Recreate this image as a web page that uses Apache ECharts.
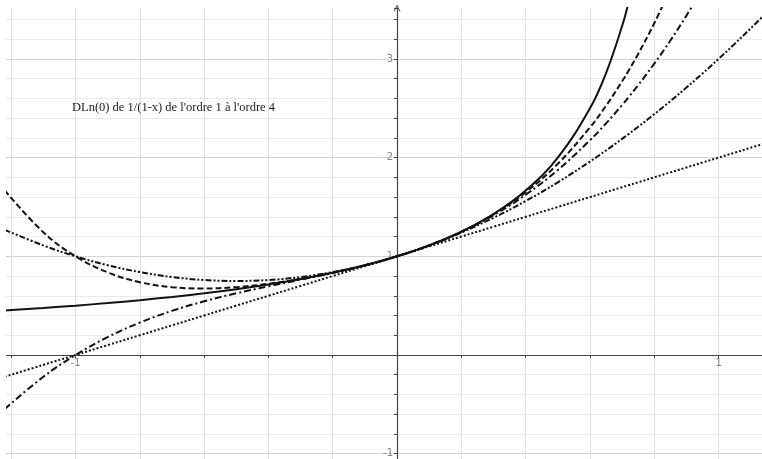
<!DOCTYPE html>
<html>
<head>
<meta charset="utf-8">
<script src="https://cdn.jsdelivr.net/npm/echarts@6/dist/echarts.min.js"></script>
<style>
    html, body { margin: 0; padding: 0; background: #fff; }
    #chart { width: 762px; height: 459px; }
</style>
</head>
<body>
<div id="chart"></div>
<script>
// abscisses des points
var xs = [-1.22, -1.1, -1.0, -0.9, -0.8, -0.7, -0.6, -0.5, -0.4, -0.3, -0.2, -0.1, 0,
    0.1, 0.2, 0.3, 0.4, 0.5, 0.6, 0.65, 0.7, 0.72, 0.75, 0.8, 0.85, 0.9, 0.95, 1.0, 1.05, 1.1, 1.14];

// 1/(1-x), trait plein
var fonction = [0.4505, 0.4762, 0.5, 0.5263, 0.5556, 0.5882, 0.625, 0.6667, 0.7143, 0.7692, 0.8333, 0.9091, 1,
    1.1111, 1.25, 1.4286, 1.6667, 2, 2.5, 2.8571, 3.3333, 3.5714, null, null, null, null, null, null, null, null, null];
// ordre 1, pointillés
var ordre1 = [-0.22, -0.1, 0, 0.1, 0.2, 0.3, 0.4, 0.5, 0.6, 0.7, 0.8, 0.9, 1,
    1.1, 1.2, 1.3, 1.4, 1.5, 1.6, 1.65, 1.7, 1.72, 1.75, 1.8, 1.85, 1.9, 1.95, 2, 2.05, 2.1, 2.14];
// ordre 2, tiret point point
var ordre2 = [1.2684, 1.11, 1, 0.91, 0.84, 0.79, 0.76, 0.75, 0.76, 0.79, 0.84, 0.91, 1,
    1.11, 1.24, 1.39, 1.56, 1.75, 1.96, 2.0725, 2.19, 2.2384, 2.3125, 2.44, 2.5725, 2.71, 2.8525, 3, 3.1525, 3.31, 3.4396];
// ordre 3, tiret point
var ordre3 = [-0.5474, -0.221, 0, 0.181, 0.328, 0.447, 0.544, 0.625, 0.696, 0.763, 0.832, 0.909, 1,
    1.111, 1.248, 1.417, 1.624, 1.875, 2.176, 2.3471, 2.533, 2.6116, 2.7344, 2.952, 3.1866, 3.439, 3.7099, null, null, null, null];
// ordre 4, tirets
var ordre4 = [1.6679, 1.2431, 1, 0.8371, 0.7376, 0.6871, 0.6736, 0.6875, 0.7216, 0.7711, 0.8336, 0.9091, 1,
    1.1111, 1.2496, 1.4251, 1.6496, 1.9375, 2.3056, 2.5256, 2.7731, 2.8803, 3.0508, 3.3616, 3.7086, null, null, null, null, null, null];

var xTickLabels = [-1, 1];
var yTickLabels = [-1, 1, 2, 3];

function pairs(ys) {
    var out = [];
    for (var i = 0; i < xs.length; i++) {
        out.push([xs[i], ys[i]]);
    }
    return out;
}

function courbe(ys, dash, width) {
    return {
        type: "line",
        data: pairs(ys),
        showSymbol: false,
        smooth: 0.4,
        clip: true,
        connectNulls: false,
        silent: true,
        lineStyle: { color: "#111", width: width, type: dash },
    };
}

// étiquettes des graduations, placées par les échelles du repère
function etiquettes(valeurs, surX) {
    return {
        type: "scatter",
        symbolSize: 0,
        silent: true,
        data: valeurs.map(function (v) {
            return surX ? [v, 0] : [0, v];
        }),
        label: {
            show: true,
            position: surX ? "bottom" : "left",
            distance: surX ? 3 : 4,
            color: "#666",
            fontSize: 10,
            fontFamily: "DejaVu Sans",
            formatter: function (p) {
                return String(surX ? p.value[0] : p.value[1]);
            },
        },
    };
}

var chart = echarts.init(document.getElementById("chart"));
chart.setOption({
    animation: false,
    backgroundColor: "#fff",
    grid: {
        left: -53.1,
        right: 0,
        top: 8,
        bottom: -14.4,
        containLabel: false,
        outerBoundsMode: "none",
    },
    xAxis: {
        type: "value",
        min: -1.4,
        max: 1.135,
        interval: 0.2,
        axisLine: { onZero: true, lineStyle: { color: "#444", width: 1.2 } },
        axisTick: { show: true, length: 3, lineStyle: { color: "#444" } },
        axisLabel: { show: false },
        splitLine: {
            show: true,
            showMaxLine: false,
            lineStyle: { color: "#e0e0e0", width: 1 },
        },
    },
    yAxis: {
        type: "value",
        min: -1.2,
        max: 3.516,
        interval: 0.2,
        axisLine: {
            onZero: true,
            symbol: ["none", "path://M0,10 L5,0 L10,10 L8.6,10 L5,3 L1.4,10 Z"],
            symbolSize: [7, 8],
            lineStyle: { color: "#444", width: 1.2 },
        },
        axisTick: { show: true, length: 3, lineStyle: { color: "#444" } },
        axisLabel: { show: false },
        splitLine: {
            show: true,
            showMaxLine: false,
            lineStyle: {
                color: ["#eaeaea", "#d4d4d4", "#eaeaea", "#eaeaea", "#eaeaea"],
                width: 1,
            },
        },
    },
    graphic: [
        {
            type: "rect",
            left: 0,
            top: 0,
            z: 100,
            shape: { width: 6, height: 459 },
            style: { fill: "#fff" },
        },
        {
            type: "text",
            left: 72,
            top: 101,
            z: 100,
            style: {
                text: "DLn(0) de 1/(1-x) de l'ordre 1 à l'ordre 4",
                font: '12.5px "Liberation Serif"',
                fill: "#222",
            },
        },
    ],
    series: [
        courbe(ordre1, [2, 2], 2),
        courbe(ordre2, [6, 2, 2, 2, 2, 2], 2),
        courbe(ordre3, [7, 3, 2, 3], 2),
        courbe(ordre4, [6, 3], 2),
        courbe(fonction, "solid", 2),
        etiquettes(xTickLabels, true),
        etiquettes(yTickLabels, false),
    ],
});
</script>
</body>
</html>
